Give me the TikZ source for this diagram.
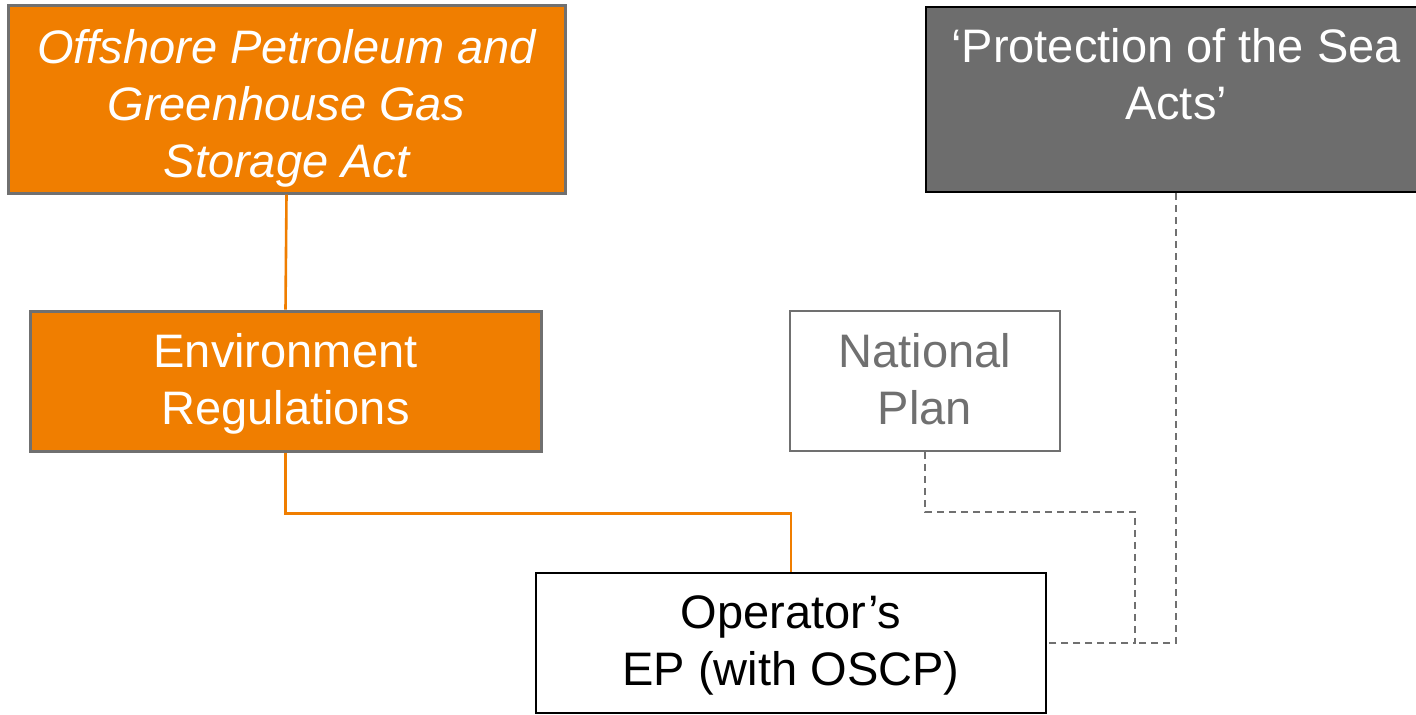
\documentclass[tikz,border=0pt]{standalone}
\usepackage{fontspec}
\setmainfont{Liberation Sans}
\definecolor{actorange}{RGB}{240,126,0}
\definecolor{boxgrey}{RGB}{112,112,112}
\definecolor{seagrey}{RGB}{109,109,109}
% lowered, centred block of lines
\newcommand{\boxtext}[2]{\raisebox{-#1}[\height][\depth]{\begin{tabular}{@{}c@{}}#2\end{tabular}}}
\begin{document}
\begin{tikzpicture}[x=0.5pt,y=-0.5pt,
    every node/.style={inner sep=0pt,align=center,font=\fontsize{23.5}{28.5}\selectfont},
    lawbox/.style={draw=boxgrey,line width=1.5pt,fill=actorange,text=white},
    planbox/.style={draw=boxgrey,line width=0.75pt,fill=white,text=boxgrey},
    seabox/.style={draw=black,line width=1pt,fill=seagrey,text=white},
    epbox/.style={draw=black,line width=1pt,fill=white,text=black},
    orangeline/.style={draw=actorange,line width=1.3pt},
    dashline/.style={draw=boxgrey,line width=0.75pt,dash pattern=on 3.5pt off 2.5pt}]
    \useasboundingbox (0,0) rectangle (1416,714);

    % Acts
    \node[lawbox,minimum width=278.5pt,minimum height=94pt] (opggsa) at (286.5,99)
        {\itshape\boxtext{5pt}{Offshore Petroleum and\\Greenhouse Gas\\Storage Act}};
    \node[seabox,minimum width=250pt,minimum height=92.5pt] (seaacts) at (1176,99.5)
        {\boxtext{4.5pt}{‘Protection of the Sea\\Acts’\\\strut}};

    % Regulations and plans
    \node[lawbox,minimum width=255.5pt,minimum height=70pt] (envreg) at (285.5,381)
        {\boxtext{2pt}{Environment\\Regulations}};
    \node[planbox,minimum width=135pt,minimum height=70pt] (natplan) at (925,381)
        {\boxtext{2pt}{National\\Plan}};

    % Operator
    \node[epbox,minimum width=255pt,minimum height=70pt] (operator) at (791,643)
        {\boxtext{1.5pt}{Operator’s\\EP (with OSCP)}};

    % Links
    \coordinate (join) at (1135,643);
    \draw[orangeline] (opggsa.south) -- (envreg.north);
    \draw[orangeline] (envreg.south) -- ++(0,61) -| (operator.north);
    \draw[dashline] (natplan.south) -- ++(0,60) -| (join) -- (operator.east);
    \draw[dashline] (seaacts.south) |- (join);
\end{tikzpicture}
\end{document}
